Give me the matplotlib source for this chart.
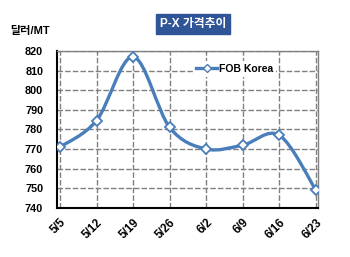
import matplotlib
matplotlib.use("Agg")
import matplotlib.pyplot as plt
from matplotlib.path import Path
from matplotlib.patches import PathPatch
from matplotlib.lines import Line2D
from matplotlib.transforms import ScaledTranslation
import numpy as np

plt.rcParams['font.family'] = ['Liberation Sans', 'Noto Sans CJK KR', 'DejaVu Sans']

categories = ['5/5', '5/12', '5/19', '5/26', '6/2', '6/9', '6/16', '6/23']
fob_korea = [771, 784.5, 817, 781, 770, 772, 777, 749]
title = 'P-X 가격추이'
ylabel = '달러/MT'
series_name = 'FOB Korea'

line_color = '#4A7EBB'

fig = plt.figure(figsize=(3.5, 2.57), dpi=100)
ax = fig.add_axes([0.163, 0.191, 0.746, 0.611])

x = np.arange(len(categories))
y = np.array(fob_korea, dtype=float)

# smoothed line (Bezier through the data points, like Excel's smooth line)
verts = [(x[0], y[0])]
codes = [Path.MOVETO]
t = 1.0 / 6.0
for i in range(len(x) - 1):
    p0 = (x[i - 1], y[i - 1]) if i > 0 else (x[i], y[i])
    p1 = (x[i], y[i])
    p2 = (x[i + 1], y[i + 1])
    p3 = (x[i + 2], y[i + 2]) if i + 2 < len(x) else (x[i + 1], y[i + 1])
    c1 = (p1[0] + (p2[0] - p0[0]) * t, p1[1] + (p2[1] - p0[1]) * t)
    c2 = (p2[0] - (p3[0] - p1[0]) * t, p2[1] - (p3[1] - p1[1]) * t)
    verts += [c1, c2, p2]
    codes += [Path.CURVE4] * 3
ax.add_patch(PathPatch(Path(verts, codes), fill=False, edgecolor=line_color,
                       linewidth=2.4, capstyle='round', joinstyle='round', zorder=3))
ax.plot(x, y, linestyle='none', marker='D', markersize=5.5, markerfacecolor='white',
        markeredgecolor=line_color, markeredgewidth=1.3, zorder=4)

ax.set_xlim(-0.08, 7.06)
ax.set_ylim(740, 820)
ax.set_yticks(np.arange(740, 821, 10))
ax.set_xticks(x)
ax.set_xticklabels(categories, rotation=45, ha='right', va='top', rotation_mode='anchor',
                   fontsize=8.3, fontweight='bold')
offset = ScaledTranslation(3 / 72, 0, fig.dpi_scale_trans)
for lab in ax.get_xticklabels():
    lab.set_transform(lab.get_transform() + offset)
for lab in ax.get_yticklabels():
    lab.set_fontsize(7.8)
    lab.set_fontweight('bold')
ax.tick_params(axis='y', length=0, pad=10)
ax.tick_params(axis='x', length=0, pad=6)

ax.grid(True, color='#808080', linestyle=(0, (4, 1.5)), linewidth=1.0)
ax.set_axisbelow(True)
for s in ['left', 'bottom']:
    ax.spines[s].set_color('black')
    ax.spines[s].set_linewidth(1.5)
for s in ['top', 'right']:
    ax.spines[s].set_color('#808080')
    ax.spines[s].set_linewidth(1.0)

handle = Line2D([], [], color=line_color, linewidth=2.4, marker='D', markersize=4,
                markerfacecolor='white', markeredgecolor=line_color)
leg = ax.legend([handle], [series_name], loc='upper right', bbox_to_anchor=(0.86, 0.97),
                frameon=True, handlelength=2.0, handletextpad=0.2,
                borderpad=0.3, prop={'weight': 'bold', 'size': 7.5})
leg.get_frame().set_facecolor('white')
leg.get_frame().set_edgecolor('none')
leg.get_frame().set_alpha(1)

fig.text(0.551, 0.908, title, ha='center', va='center', color='white', fontsize=8.5,
         fontweight='bold',
         bbox=dict(boxstyle='square,pad=0.35', facecolor='#2F5597', edgecolor='#2F5597'))
fig.text(0.03, 0.88, ylabel, ha='left', va='center', fontsize=8, fontweight='bold')

fig.savefig('out.png', dpi=100, facecolor='white')
